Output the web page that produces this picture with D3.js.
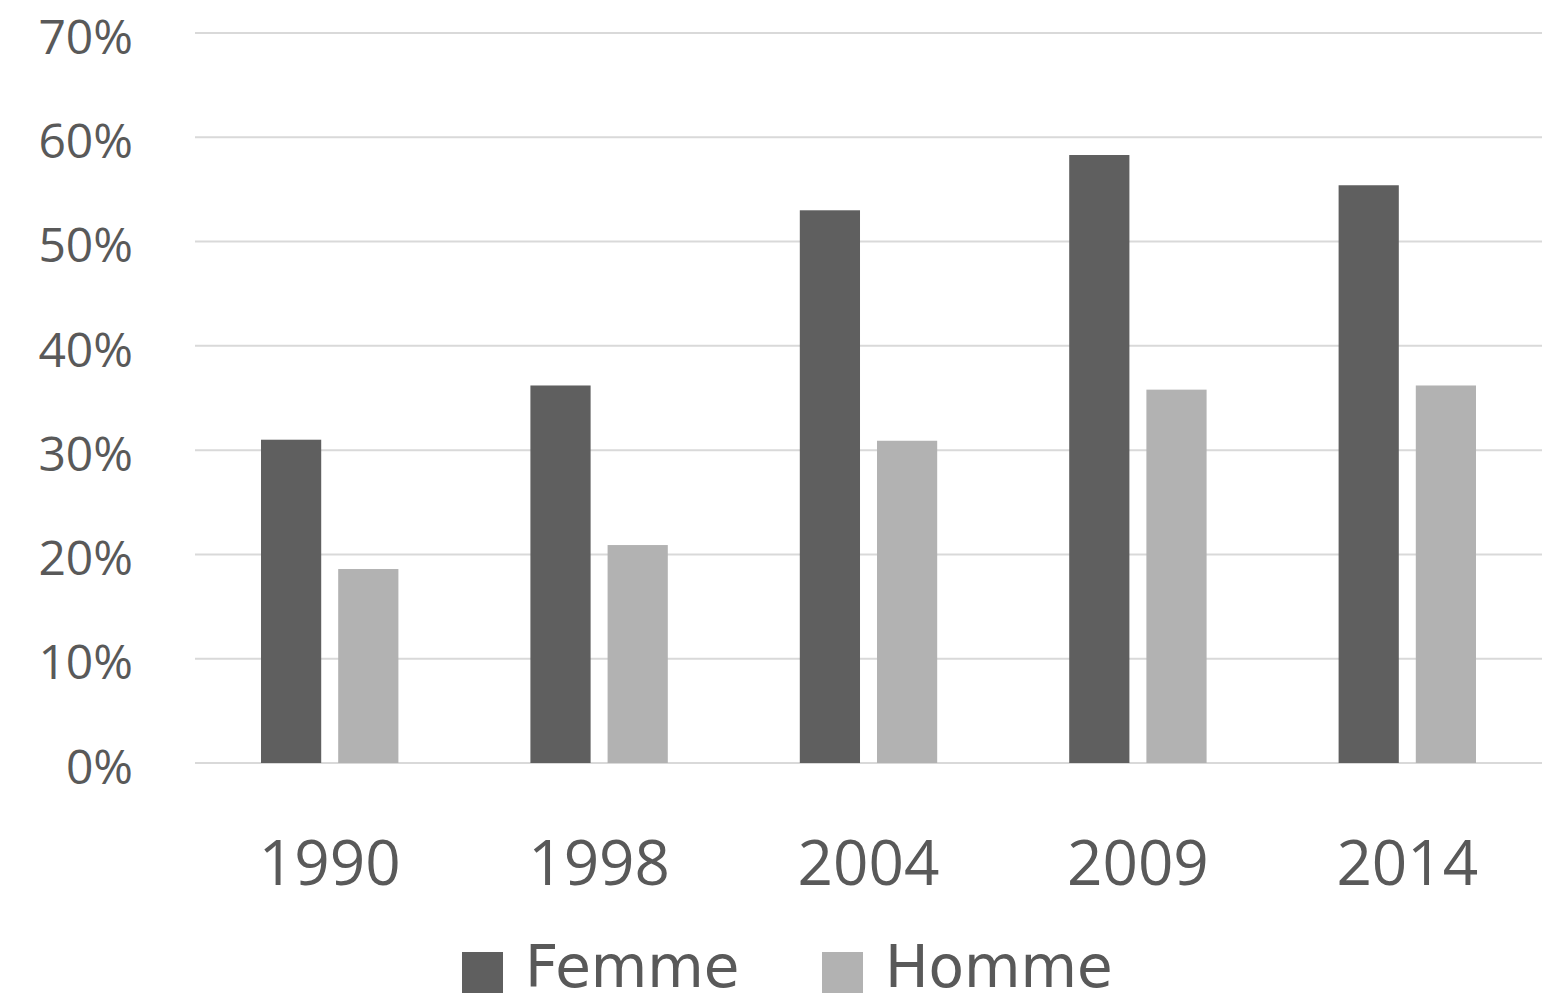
<!DOCTYPE html>
<html>
<head>
<meta charset="utf-8">
<script src="https://cdn.jsdelivr.net/npm/d3@7"></script>
<style>
  body { margin: 0; background: #fff; }
  text { fill: #595959; }
</style>
</head>
<body>
<svg id="plot" width="1551" height="1001"></svg>
<script>
// data
var years = ["1990", "1998", "2004", "2009", "2014"];
var series = ["Femme", "Homme"];
var femme = [0.310, 0.362, 0.530, 0.583, 0.554];
var homme = [0.186, 0.209, 0.309, 0.358, 0.362];
var yTicks = [0, 0.1, 0.2, 0.3, 0.4, 0.5, 0.6, 0.7];
var colors = ["#5f5f5f", "#b2b2b2"];

var svg = d3.select("#plot"),
    margin = {top: 33, right: 9, bottom: 238, left: 195},
    width = +svg.attr("width") - margin.left - margin.right,
    height = +svg.attr("height") - margin.top - margin.bottom;

var rows = years.map(function(y, i) { return {year: y, values: [femme[i], homme[i]]}; });

var x0 = d3.scaleBand().domain(years).range([0, width]).paddingInner(0.49).paddingOuter(0.245);
var x1 = d3.scaleBand().domain(series).range([0, x0.bandwidth()]).paddingInner(0.22);
var y = d3.scaleLinear().domain([0, 0.7]).range([height, 0]);

var g = svg.append("g")
    .attr("transform", "translate(" + margin.left + "," + margin.top + ")");

// gridlines
g.append("g")
    .selectAll("line")
    .data(yTicks)
    .enter().append("line")
    .attr("x1", 0)
    .attr("x2", width)
    .attr("y1", function(d) { return y(d); })
    .attr("y2", function(d) { return y(d); })
    .attr("stroke", "#d9d9d9")
    .attr("stroke-width", 2);

// y axis labels
var yAxis = g.append("g")
    .call(d3.axisLeft(y).tickValues(yTicks).tickFormat(d3.format(".0%")).tickSize(0).tickPadding(62));
yAxis.select(".domain").remove();
yAxis.selectAll("text")
    .attr("dy", "0.42em")
    .style("font-family", "'Open Sans', sans-serif")
    .style("font-size", "48px")
    .style("fill", "#595959");

// bars
var groups = g.append("g")
    .selectAll("g")
    .data(rows)
    .enter().append("g")
    .attr("transform", function(d) { return "translate(" + x0(d.year) + ",0)"; });

groups.selectAll("rect")
    .data(function(d) { return d.values.map(function(v, i) { return {key: series[i], value: v}; }); })
    .enter().append("rect")
    .attr("x", function(d) { return x1(d.key); })
    .attr("width", x1.bandwidth())
    .attr("y", function(d) { return y(d.value); })
    .attr("height", function(d) { return height - y(d.value); })
    .attr("fill", function(d, i) { return colors[i]; });

// x axis labels
var xAxis = g.append("g")
    .attr("transform", "translate(0," + height + ")")
    .call(d3.axisBottom(x0).tickSize(0).tickPadding(78));
xAxis.select(".domain").remove();
xAxis.selectAll("text")
    .style("font-family", "'Open Sans', sans-serif")
    .style("font-size", "62px")
    .style("fill", "#595959");

// legend
var legendX = [462, 822];
var legend = svg.append("g")
    .selectAll("g")
    .data(series)
    .enter().append("g")
    .attr("transform", function(d, i) { return "translate(" + legendX[i] + ",952)"; });

legend.append("rect")
    .attr("width", 41)
    .attr("height", 41)
    .attr("fill", function(d, i) { return colors[i]; });

legend.append("text")
    .attr("x", 63)
    .attr("y", 35)
    .style("font-family", "'DejaVu Sans', sans-serif")
    .style("font-size", "58px")
    .text(function(d) { return d; });
</script>
</body>
</html>
